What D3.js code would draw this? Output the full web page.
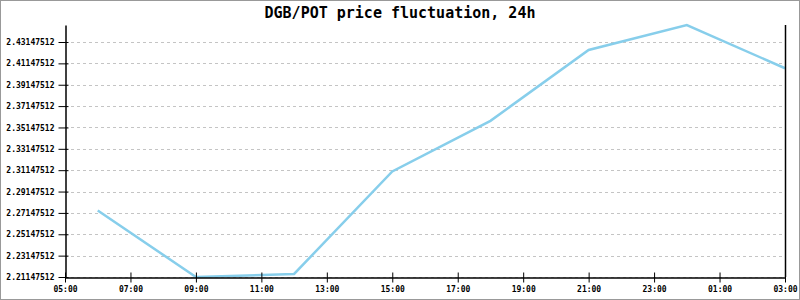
<!DOCTYPE html>
<html>
<head>
<meta charset="utf-8">
<script src="https://cdn.jsdelivr.net/npm/d3@7"></script>
<style>
  body { margin: 0; background: #fff; }
  svg { display: block; }
</style>
</head>
<body>
<script>
// price samples, every 3 hours
var times = ['06:00', '09:00', '12:00', '15:00', '18:00', '21:00', '00:00', '03:00'];
var prices = [2.2737, 2.21147512, 2.2143, 2.3103, 2.3577, 2.4240, 2.4474, 2.4069];
var yTicks = [2.21147512, 2.23147512, 2.25147512, 2.27147512, 2.29147512, 2.31147512,
  2.33147512, 2.35147512, 2.37147512, 2.39147512, 2.41147512, 2.43147512];
var xTicks = ['05:00', '07:00', '09:00', '11:00', '13:00', '15:00', '17:00',
  '19:00', '21:00', '23:00', '01:00', '03:00'];
var title = 'DGB/POT price fluctuation, 24h';

var width = 800, height = 300;
var margin = {top: 25, right: 15, bottom: 23, left: 65};

// times after midnight belong to the next day
var toDates = function(list) {
  var rolled = false;
  return list.map(function(t, i) {
    if (i > 0 && t < list[i - 1]) rolled = true;
    var p = t.split(':');
    return new Date(2020, 0, rolled ? 2 : 1, +p[0], +p[1]);
  });
};
var sampleDates = toDates(times);
var tickDates = toDates(xTicks);
var parsed = sampleDates.map(function(d, i) { return {t: d, v: prices[i]}; });

var svg = d3.select('body').append('svg')
  .attr('width', width)
  .attr('height', height);

svg.append('rect')
  .attr('x', 0.5).attr('y', 0.5)
  .attr('width', width - 1).attr('height', height - 1)
  .attr('fill', '#fff')
  .attr('stroke', '#999');

var x = d3.scaleTime()
  .domain([tickDates[0], tickDates[tickDates.length - 1]])
  .range([margin.left, width - margin.right]);

var y = d3.scaleLinear()
  .domain(d3.extent(prices))
  .range([height - margin.bottom, margin.top]);

// grid
svg.append('g')
  .selectAll('line')
  .data(yTicks)
  .enter().append('line')
  .attr('x1', margin.left)
  .attr('x2', width - margin.right)
  .attr('y1', function(d) { return Math.round(y(d)) + 0.5; })
  .attr('y2', function(d) { return Math.round(y(d)) + 0.5; })
  .attr('stroke', '#c4c4c4')
  .attr('stroke-dasharray', '3,3');

// line
var line = d3.line()
  .x(function(d) { return x(d.t); })
  .y(function(d) { return y(d.v); });

svg.append('path')
  .datum(parsed)
  .attr('d', line)
  .attr('fill', 'none')
  .attr('stroke', '#87ceeb')
  .attr('stroke-width', 2.5);

// y axis
var yAxis = d3.axisLeft(y)
  .tickValues(yTicks)
  .tickFormat(function(d) { return d.toFixed(8); })
  .tickSizeInner(7)
  .tickSizeOuter(0);

var gy = svg.append('g')
  .attr('transform', 'translate(' + (margin.left + 0.5) + ',0)')
  .call(yAxis);
gy.selectAll('.tick line').attr('x2', 3).attr('x1', -7);
gy.selectAll('.tick text').attr('x', -11);

// x axis
var xAxis = d3.axisBottom(x)
  .tickValues(tickDates)
  .tickFormat(d3.timeFormat('%H:%M'))
  .tickSizeInner(5)
  .tickSizeOuter(0);

var gx = svg.append('g')
  .attr('transform', 'translate(0,' + (height - margin.bottom + 0.5) + ')')
  .call(xAxis);
gx.selectAll('.tick line').attr('y1', -5).attr('y2', 5);
gx.selectAll('.tick text').attr('y', 9);

svg.selectAll('.domain').attr('stroke', '#000').attr('stroke-width', 1.5);
svg.selectAll('.tick line').attr('stroke', '#000');
svg.selectAll('.tick text')
  .attr('font-family', 'DejaVu Sans Mono, monospace')
  .attr('font-size', 8)
  .attr('font-weight', 'bold')
  .attr('fill', '#000');

// right border line
svg.append('line')
  .attr('x1', width - margin.right + 0.5)
  .attr('x2', width - margin.right + 0.5)
  .attr('y1', margin.top)
  .attr('y2', height - margin.bottom)
  .attr('stroke', '#000')
  .attr('stroke-width', 1.5);

svg.append('text')
  .attr('x', width / 2)
  .attr('y', 18)
  .attr('text-anchor', 'middle')
  .attr('font-family', 'DejaVu Sans Mono, monospace')
  .attr('font-size', 15)
  .attr('font-weight', 'bold')
  .text(title);
</script>
</body>
</html>
